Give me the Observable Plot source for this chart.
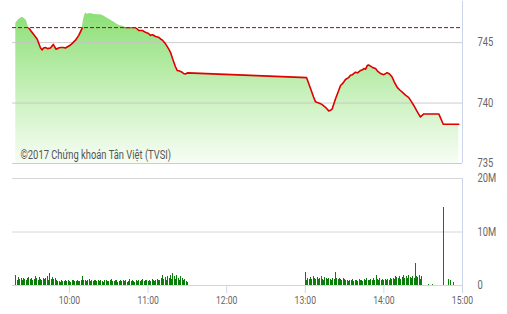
<!DOCTYPE html>
<html><head><meta charset="utf-8">
<script src="https://cdn.jsdelivr.net/npm/d3@7"></script>
<script src="https://cdn.jsdelivr.net/npm/@observablehq/plot@0.6"></script>
<style>
body{margin:0;background:#fff}
#chart svg{display:block;overflow:visible}
</style>
</head><body><div id="chart"></div>
<script>
// ---- data ----
const referencePrice = 746.24;
const caption = "©2017 Chứng khoán Tân Việt (TVSI)";
const priceTicks = [735, 740, 745];
const volTicks = [0, 10, 20];           // millions
const hourTicks = [600, 660, 720, 780, 840, 900]; // minutes since midnight
const xDomain = [556.5, 900];

// index price: time (minutes since midnight) and value
const priceTime = [
 559, 561.1, 563.9, 565.6, 567.2, 568.9, 571.8, 575.3, 577.9, 579.2,
 580.2, 581.7, 583.2, 585.5, 587.6, 589.8, 591.6, 593.1, 595.4, 596.9,
 599.2, 600.8, 602.7, 604.6, 607.1, 609.7, 610.7, 612.2, 613.7, 616,
 618.3, 621.1, 623.7, 626.2, 628.2, 630, 632.1, 633.8, 636.6, 638.9,
 641.2, 642.7, 646.6, 650.4, 652.9, 655.7, 658, 660.3, 661.8, 663.4,
 665.7, 667.9, 669.5, 671, 673.3, 675.6, 677.1, 678.6, 679.6, 680.9,
 682.2, 684, 686, 687, 688.6, 690, 781, 784, 786.3, 787.8,
 791.6, 793.1, 795.4, 797.9, 799.2, 800.5, 803.1, 805, 806.9, 808.4,
 810.7, 813, 814.5, 816, 818.3, 819.9, 822.2, 823.7, 824.7, 826,
 827.3, 828.3, 829.8, 831.3, 833.6, 835.1, 837.4, 839.9, 842.5, 844.3,
 846.3, 848.1, 850.2, 851.9, 854, 856.5, 859, 861.1, 862.8, 864.9,
 866.4, 867.9, 870.5, 881.9, 885.3, 897.2];
const priceValue = [
 746.6, 746.9, 747.1, 747.0, 746.8, 746.2, 745.8, 745.3, 744.55, 744.4,
 744.55, 744.6, 744.5, 744.55, 744.85, 744.45, 744.55, 744.6, 744.6, 744.55,
 744.7, 744.8, 745.0, 745.2, 745.6, 746.2, 746.9, 747.45, 747.35, 747.4,
 747.35, 747.3, 747.3, 747.2, 747.05, 746.95, 746.8, 746.7, 746.5, 746.4,
 746.35, 746.25, 746.25, 746.25, 746.0, 746.0, 745.85, 745.75, 745.6, 745.65,
 745.5, 745.45, 745.3, 745.2, 744.9, 744.5, 744.2, 743.7, 743.4, 743.0,
 742.7, 742.65, 742.55, 742.45, 742.4, 742.5, 742.1, 741.2, 740.5, 740.1,
 739.95, 739.85, 739.65, 739.35, 739.4, 739.5, 740.35, 740.9, 741.45, 741.6,
 741.95, 742.1, 742.3, 742.35, 742.55, 742.5, 742.7, 742.75, 742.85, 742.8,
 743.1, 743.15, 743.05, 742.95, 742.85, 742.65, 742.45, 742.35, 742.5, 742.4,
 742.15, 741.7, 741.3, 741.1, 740.9, 740.65, 740.45, 740.1, 739.8, 739.4,
 739.1, 738.85, 739.1, 739.1, 738.25, 738.25];

// per-minute volume (millions)
const volMorningStart = 559;
const volMorning = [
 1.9, 1.0, 1.5, 1.2, 1.3, 0.9, 1.4, 1.2, 1.0, 1.3, 1.5, 1.1, 1.4, 1.0, 1.2, 1.6, 1.3, 1.0, 1.5, 1.2,
 0.9, 1.4, 1.1, 1.3, 1.6, 1.0, 2.3, 1.2, 1.5, 1.1, 1.4,
 0.9, 0.7, 0.8, 0.6, 0.9, 0.7, 0.8, 1.0, 0.7, 0.9, 0.8, 0.6, 0.9, 1.0, 0.8, 0.7, 0.9, 0.8, 0.7, 1.0,
 1.6, 0.9, 1.0, 0.8, 0.9, 1.1, 0.8, 0.9, 0.7, 1.0,
 0.9, 0.8, 1.0, 0.7, 0.9, 0.8, 0.6, 0.9, 1.0, 0.8,
 0.7, 0.9, 1.2, 0.8, 0.7, 0.9, 1.0, 0.6, 0.8, 0.9,
 0.7, 1.0, 0.8, 0.9, 0.6, 0.8, 1.1, 0.7, 0.9, 0.8,
 0.6, 0.9, 0.7, 1.0, 0.8, 0.9, 1.2, 0.8, 1.0, 0.9,
 0.7, 1.0, 0.8, 1.1, 0.9, 0.8, 1.0, 1.2, 0.9, 1.0,
 1.3, 1.9, 1.2, 1.5, 1.0, 1.7, 1.4, 1.8, 1.1, 2.3, 1.6, 1.2, 1.9, 1.4, 1.0, 1.6, 1.3, 0.9, 1.1, 0.8, 0.5];
const volAfternoonStart = 780;
const volAfternoon = [
 2.5, 1.0, 1.4, 1.2, 1.5, 1.1, 1.6, 1.3, 1.2, 1.5,
 1.1, 1.4, 1.6, 1.2, 1.0, 1.5, 1.3, 1.1, 1.4, 1.2,
 1.0, 1.3, 1.2, 2.4, 1.3, 1.1, 1.4, 1.2, 1.0, 1.3,
 1.1, 0.9, 1.0, 0.8, 1.0, 0.9, 1.1, 0.8, 0.9, 1.0,
 0.8, 1.2, 0.9, 1.0, 0.8, 1.1, 0.9, 1.3, 1.0, 0.9,
 1.2, 1.0, 1.4, 0.9, 1.8, 1.1, 1.0, 1.3, 0.9, 1.1,
 1.0, 1.2, 0.9, 1.1, 1.0, 1.3, 1.2, 1.4, 1.1, 1.6,
 1.5, 1.3, 1.7, 1.2, 1.5, 1.8, 1.3, 1.6, 1.4, 1.8,
 1.5, 1.3, 1.7, 1.4, 4.1, 1.6, 1.5, 1.8, 1.2, 1.7];
const volCloseTime = [874, 877, 885.5, 889, 891, 893];
const volCloseValue = [0.1, 0.15, 14.5, 1.2, 1.0, 0.6];

// ---- build ----
const fmtTime = m => `${Math.floor(m / 60)}:${String(Math.round(m % 60)).padStart(2, "0")}`;
const price = priceTime.map((t, i) => ({t, v: priceValue[i]}));
const vol = [
  ...volMorning.map((v, i) => ({t: volMorningStart + i, v})),
  ...volAfternoon.map((v, i) => ({t: volAfternoonStart + i, v})),
  ...volCloseTime.map((t, i) => ({t, v: volCloseValue[i]}))
];
const font = "'Liberation Sans Narrow', 'Arial Narrow', Roboto, sans-serif";

const topChart = Plot.plot({
  width: 507, height: 164,
  marginLeft: 12, marginRight: 45, marginTop: 1, marginBottom: 1,
  style: {fontFamily: font, fontSize: "12px", color: "#666", background: "transparent", overflow: "visible"},
  x: {domain: xDomain, axis: null},
  y: {domain: [735, 748.4], axis: "right", label: null, ticks: priceTicks, tickSize: 0, tickPadding: 15},
  marks: [
    Plot.areaY(price, {x: "t", y1: 735, y2: "v", fill: "url(#priceFill)"}),
    Plot.ruleY(priceTicks, {stroke: "#c4c4c4", strokeOpacity: 0.85}),
    Plot.ruleX([900], {stroke: "#ccd6eb"}),
    Plot.ruleY([referencePrice], {stroke: "#b30000", strokeDasharray: "4,2"}),
    Plot.line(price, {x: "t", y: "v", stroke: "#e00000", strokeWidth: 1.6}),
    Plot.text([caption], {text: d => d, frameAnchor: "bottom-left", textAnchor: "start", lineAnchor: "middle",
      dx: 8, dy: -8.5, fill: "#555", fontSize: 12})
  ]
});

// gradient + clip for red line (only below reference)
{
  const svg = d3.select(topChart);
  const defs = svg.insert("defs", ":first-child");
  const g = defs.append("linearGradient").attr("id", "priceFill")
    .attr("x1", 0).attr("y1", 0).attr("x2", 0).attr("y2", 1);
  g.append("stop").attr("offset", 0).attr("stop-color", "#8cdf76");
  g.append("stop").attr("offset", 0.55).attr("stop-color", "#c9f1bd");
  g.append("stop").attr("offset", 1).attr("stop-color", "#f7fdf5");
  const yRef = topChart.scale("y").apply(referencePrice);
  defs.append("clipPath").attr("id", "belowRef")
    .append("rect").attr("x", 0).attr("y", yRef).attr("width", 507).attr("height", 200);
  svg.selectAll('g[aria-label="line"]').attr("clip-path", "url(#belowRef)");
}

const bottomChart = Plot.plot({
  width: 507, height: 150,
  marginLeft: 12, marginRight: 45, marginTop: 14, marginBottom: 29,
  style: {fontFamily: font, fontSize: "11px", color: "#666", background: "transparent", overflow: "visible"},
  x: {domain: xDomain, label: null, ticks: hourTicks, tickFormat: fmtTime, tickSize: 8, tickPadding: 3},
  y: {domain: [0, 20], axis: "right", label: null, ticks: volTicks, tickFormat: v => v ? v + "M" : "0", tickSize: 0, tickPadding: 15},
  marks: [
    Plot.ruleY([10, 20], {stroke: "#d6d6d6"}),
    Plot.ruleX([900], {y1: 0, y2: 20, stroke: "#ccd6eb"}),
    Plot.ruleX(vol, {x: "t", y1: 0, y2: "v", stroke: "#0b7d0b", strokeWidth: 1, shapeRendering: "crispEdges"}),
    Plot.ruleY([0], {stroke: "#ccd6eb"})
  ]
});
{
  const svg = d3.select(bottomChart);
  svg.selectAll('g[aria-label="x-axis tick"]').attr("stroke", "#ccd6eb");
  svg.selectAll('g[aria-label^="y-axis"]').attr("font-size", 12);
}

document.getElementById("chart").append(topChart, bottomChart);

// narrow the lettering (the reference uses a condensed face)
for (const svg of [topChart, bottomChart]) {
  d3.select(svg).selectAll("text").each(function () {
    const w = this.getComputedTextLength();
    if (w > 0) {
      this.setAttribute("textLength", (w * 0.78).toFixed(1));
      this.setAttribute("lengthAdjust", "spacingAndGlyphs");
    }
  });
}
</script>
</body></html>
